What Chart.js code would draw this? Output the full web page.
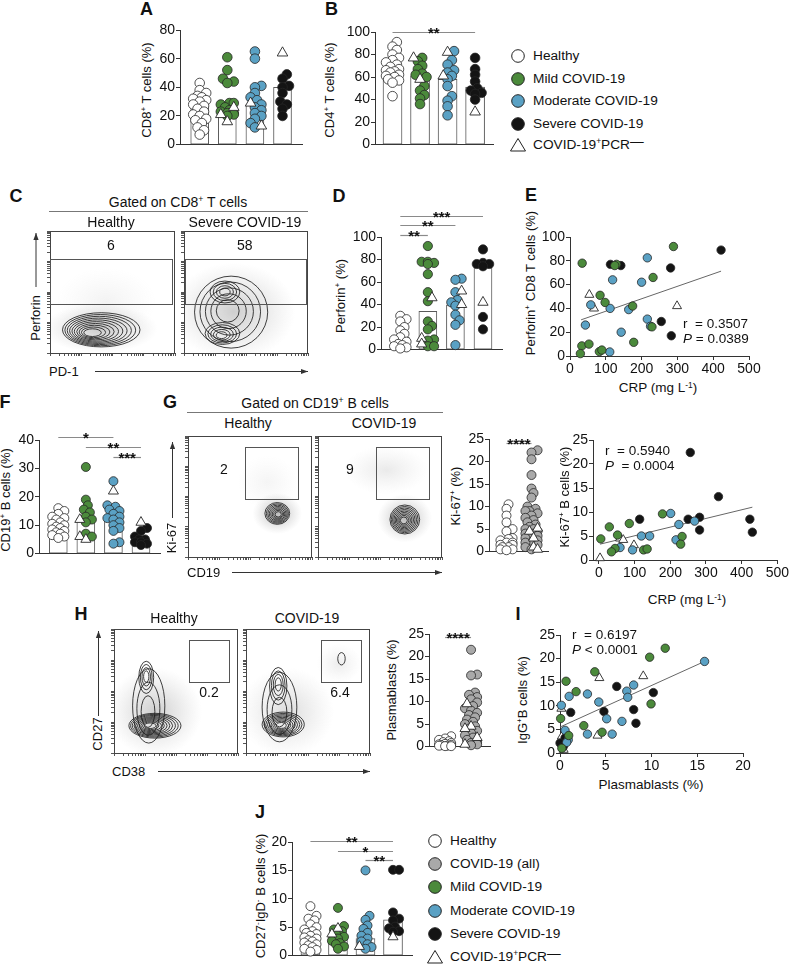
<!DOCTYPE html>
<html><head><meta charset="utf-8">
<script src="https://cdn.jsdelivr.net/npm/chart.js@4.4.1/dist/chart.umd.min.js"></script>
<style>
body{margin:0;background:#fff;}
#root{position:relative;width:791px;height:968px;overflow:hidden;font-family:"Liberation Sans",Arial,Helvetica,sans-serif;color:#111;background:#fff;}
.t{position:absolute;white-space:nowrap;font-size:13.5px;line-height:1.15;color:#111;z-index:5;}
sup{font-size:0.62em;vertical-align:0.55em;line-height:0;}
canvas{position:absolute;}
#deco{position:absolute;left:0;top:0;}
</style></head>
<body><div id="root"><svg id="deco" width="791" height="968" xmlns="http://www.w3.org/2000/svg"></svg></div>
<script>
// ---------------- DATA ----------------
const groups = ["Healthy","Mild COVID-19","Moderate COVID-19","Severe COVID-19"];
// A: CD8+ T cells (%)
const aBars = [26.5, 27, 28, 40];
const aHealthy = [43, 38, 36, 34, 33, 32, 31, 30, 28, 27, 25, 23, 21, 20, 18, 17, 15, 12, 10, 7];
const aMild = [61, 52, 46, 44, 43, 29, 29, 28, 26, 24, 23, 22, 22, 21, 20];
const aModerate = [65, 60, 41, 40, 36, 33, 31, 28, 26, 24, 22, 20, 18, 15, 12];
const aSevere = [49, 46, 41, 40, 36, 30, 28, 25, 20];
const aPcrNeg = [[], [26, 21, 16], [29, 13], [64]];
// B: CD4+ T cells (%)
const bBars = [64, 61, 58, 51];
const bHealthy = [91, 87, 84, 80, 77, 75, 73, 71, 69, 67, 66, 65, 64, 62, 61, 60, 58, 57, 55, 43];
const bMild = [77, 74, 70, 67, 63, 62, 60, 52, 48, 44, 41, 36];
const bModerate = [83, 75, 71, 66, 64, 61, 58, 52, 43, 39, 34, 26];
const bSevere = [77, 67, 62, 56, 50, 48, 46, 45, 40];
const bPcrNeg = [[], [77, 58], [82, 61], [29]];
// D: Perforin+ (%)
const dBars = [11, 34, 39.5, 74];
const dHealthy = [30, 27, 25, 20, 17, 14, 11, 9, 7, 5, 4, 3, 2, 1];
const dMild = [92, 78, 78, 77, 76, 67, 51, 43, 25, 21, 18, 9, 8, 3, 3];
const dModerate = [63, 62, 51, 44, 42, 39, 31, 26, 22, 4];
const dSevere = [89, 77, 76, 76, 74, 29, 18];
const dPcrNeg = [[], [46, 10, 5], [52, 40], [42]];
// E: CRP vs Perforin+ CD8 T cells  [CRP, %]
const eMild = [[34,78],[130,77],[125,76],[289,92],[232,66],[84,51],[98,45],[175,42],[229,24.5],[178,11.5],[33,8.5],[53,10],[29,2],[82,3.7],[89,5]];
const eModerate = [[216,82.5],[119,64],[200,62],[58,43],[112,40],[164,39],[43,26],[143,20],[216,31],[225,25],[111,3.4]];
const eSevere = [[113,77],[142,76],[422,89],[281,74],[255,29],[283,17]];
const ePcrNeg = [[54,51.5],[67,40],[299,42]];
const eFit = [[31,30.4],[422,71.3]];
// F: CD19+ B cells (%)
const fBars = [9.5, 12.5, 12.5, 5];
const fHealthy = [16, 15, 14, 13, 12.5, 12, 11, 10.5, 10, 9.5, 9, 8.5, 8, 7.5, 7, 6.5, 6, 5.5];
const fMild = [30.5, 19, 17, 15.5, 14.5, 13, 12, 11, 7, 6];
const fModerate = [25.5, 17, 16.5, 15.5, 15, 14, 13, 12.5, 12, 11, 10, 9, 8, 4, 3.5];
const fSevere = [9, 8, 6, 5, 5, 4, 4, 3.5, 3];
const fPcrNeg = [[], [12, 6, 5], [22], [11]];
// G: Ki-67+ (%)
const kGroups = ["Healthy","COVID-19"];
const kBars = [2.5, 5.2];
const kHealthy = [10.5, 9.5, 8, 6.5, 5, 4.5, 3, 2.8, 2.5, 2, 2, 1.5, 1.5, 1, 1, 0.5, 0.5, 0.3];
const kCovid = [22.5, 22, 20.5, 17, 14, 13, 12, 10, 9.5, 9, 9, 8.5, 8, 7.5, 7, 6.5, 6, 5.5, 5, 5, 4.5, 4, 4, 3.5, 3, 3, 2.5, 2, 2, 1.5, 1, 0.5];
const kPcrNeg = [[], [5.2, 4.5, 3, 1, 0.5]];
// G: CRP vs Ki-67+ B cells
const gMild = [[29,6.9],[85,7.6],[178,9.6],[5,4.4],[52,5.2],[45,2.4],[35,1.7],[125,2.1],[135,2.3],[233,4.9],[229,3.3]];
const gModerate = [[201,9.7],[224,7.4],[268,8.1],[59,2.6],[94,2.1],[119,5],[142,5],[216,4.2]];
const gSevere = [[256,22.4],[335,13.2],[114,8.5],[250,8.5],[282,8.9],[282,6.25],[423,8.5],[430,5.8]];
const gPcrNeg = [[59,4.5],[68,4.2],[98,3.1],[3,0.4]];
const gFit = [[3,3.3],[430,11]];
// H: Plasmablasts (%)
const pBars = [1.0, 4.3];
const pHealthy = [2.3, 1.8, 1.5, 1.2, 1.0, 0.8, 0.6, 0.5, 0.4, 0.3, 0.2, 0.2, 0.1, 0.1];
const pCovid = [21.5, 16, 15.8, 12, 11.5, 11, 10.5, 9.8, 9, 8.5, 8, 7.5, 7, 6.5, 6, 5.5, 5, 4.5, 4, 3.5, 3, 2.5, 2, 1.5, 1, 0.8, 0.5, 0.3];
const pPcrNeg = [[], [9.5, 4.5, 4, 2, 0.5]];
// I: Plasmablasts vs IgG+ B cells
const iMild = [[11.5,22.2],[9.8,20.3],[3.8,17.2],[0.66,15.2],[1.76,13],[9.95,10.4],[0.07,7.3],[2.6,5.8],[4.6,4.4],[0.95,3.7],[0.2,1.0]];
const iModerate = [[15.8,19.4],[1.0,12],[3.0,12.5],[7.3,13.1],[8.05,14.4],[7.4,11.8],[4.24,10.8],[0.15,10.1],[5.1,7.25],[6.77,6.7],[3.0,4.0],[5.7,4.0],[0.55,4.8],[0.9,2.8],[0.73,2.25]];
const iSevere = [[6.2,14.1],[10.2,12.8],[1.17,8.6],[4.8,8.8],[8.05,9.2],[8.3,6.3],[0.55,3.2],[0,2.1],[0.37,1.4]];
const iPcrNeg = [[4.3,15.9],[9.1,16.3],[0.15,9.4],[4.1,3.7],[0.2,3.5],[0.4,0.7]];
const iFit = [[0,5.5],[15.8,19.4]];
// J: CD27-IgD- B cells (%)
const jBars = [3.7, 3.3, 3.0, 6.3];
const jHealthy = [8.7, 7, 6.5, 6.2, 5.5, 5, 4.6, 4.3, 4, 3.8, 3.5, 3.2, 3, 2.7, 2.5, 2.3, 2, 1.8, 1.5, 1.2, 1, 0.7];
const jMild = [8.4, 5.2, 4.6, 4.3, 3.8, 3.3, 3.0, 2.6, 2.2, 2.0, 1.6, 1.2];
const jModerate = [15, 7, 6.3, 5.3, 4.7, 4.0, 3.5, 3, 2.5, 2.0, 1.5, 1.2];
const jSevere = [15.1, 15.1, 7.6, 6.5, 6.2, 5.1, 4.8, 4.3, 4.2];
const jPcrNeg = [[], [4.8, 3.8], [1.6], [3.3]];
// tick labels
const yTicks80 = [0,20,40,60,80];
const yTicks100 = [0,20,40,60,80,100];
const yTicks40 = [0,10,20,30,40];
const yTicks25 = [0,5,10,15,20,25];
const yTicks20 = [0,5,10,15,20];
const crpTicks = [0,100,200,300,400,500];
const pbTicks = [0,5,10,15,20];
// significance: [group1, group2, level, stars]
const bSig = [[0,3,100,"**"]];
const dSig = [[0,1,102,"**"],[0,2,110.5,"**"],[0,3,119,"***"]];
const fSig = [[0,2,41,"*"],[1,3,37.7,"**"],[2,3,34,"***"]];
const kSig = [[0,1,24.2,"****"]];
const pSig = [[0,1,24.4,"****"]];
const jSig = [[0,3,20.2,"**"],[1,3,18.5,"*"],[2,3,16.8,"**"]];
// flow gates [x0,x1,y0,y1] and gate frequencies
const cGates = [[0,97.6,40.2,77],[0.8,98.4,40.2,77]];
const cFreq = ["6","58"];
const gGates = [[46,88.7,48,91],[46.8,89.5,48,91]];
const gFreq = ["2","9"];
const hGates = [[60.5,92.7,57,91],[60.5,92.7,57,91]];
const hFreq = ["0.2","6.4"];

// ---------------- STYLE ----------------
const GREEN='#4b8a3b', BLUE='#5aa1c4', BLACK='#141414', GRAY='#a9a9a9', WHITE='#ffffff', EDGE='#262626';
const FONT='"Liberation Sans", Arial, Helvetica, sans-serif';
Chart.defaults.font.family=FONT;
Chart.defaults.font.size=14;
Chart.defaults.color='#111';
Chart.defaults.animation=false;
Chart.defaults.plugins.legend.display=false;
Chart.defaults.plugins.tooltip.enabled=false;
const root=document.getElementById('root');
const svg=document.getElementById('deco');

function mk(rect,pad){
  const c=document.createElement('canvas');
  const left=Math.round(rect.l-pad.l), top=Math.round(rect.t-pad.t);
  const W=Math.round(rect.r+pad.r)-left, H=Math.round(rect.b+pad.b)-top;
  c.width=W;c.height=H;
  Object.assign(c.style,{left:left+'px',top:top+'px',width:W+'px',height:H+'px'});
  root.appendChild(c);
  return {c,padL:Math.round(rect.l)-left,padT:Math.round(rect.t)-top,padR:left+W-Math.round(rect.r),padB:top+H-Math.round(rect.b)};
}
function yScale(ticks,w,min,max){
  return {type:'linear',position:'left',min:min,max:max,
    afterBuildTicks:s=>{s.ticks=ticks.map(v=>({value:v}));},
    afterFit:s=>{s.width=w;},
    ticks:{autoSkip:false,padding:1,color:'#111',font:{size:14}},
    grid:{drawOnChartArea:false,drawTicks:true,tickLength:4,color:'#333'},
    border:{display:true,color:'#333',width:1}};
}
function xScale(ticks,h,min,max){
  const s={type:'linear',position:'bottom',min:min,max:max,offset:false,afterFit:sc=>{sc.height=h;},
    border:{display:true,color:'#333',width:1}};
  if(ticks){
    s.afterBuildTicks=sc=>{sc.ticks=ticks.map(v=>({value:v}));};
    s.ticks={autoSkip:false,padding:1,maxRotation:0,color:'#111',font:{size:14}};
    s.grid={drawOnChartArea:false,drawTicks:true,tickLength:4,color:'#333',offset:false};
  } else {
    s.ticks={display:false}; s.grid={display:false,offset:false};
  }
  return s;
}
function swarm(vals,pxU,r,maxOff){
  const idx=vals.map((v,i)=>i).sort((a,b)=>vals[a]-vals[b]);
  const placed=[],off=new Array(vals.length),minD=r*1.15;
  for(const i of idx){
    const y=vals[i]*pxU; let best=0,bs=Infinity;
    for(let k=0;k<=16;k++){
      for(const s of (k===0?[0]:[1,-1])){
        const x=s*k*r*0.45; if(Math.abs(x)>maxOff) continue;
        let ov=0; for(const p of placed){const d=Math.hypot(p.x-x,p.y-y); if(d<minD) ov+=minD-d;}
        const sc=ov*10+Math.abs(x)*0.05;
        if(sc<bs){bs=sc;best=x;}
      }
    }
    off[i]=best; placed.push({x:best,y});
  }
  return off;
}
const sigPlugin={id:'sig',afterDraw(chart,args,opts){
  if(!opts||!opts.items) return;
  const {ctx,scales:{x,y}}=chart; ctx.save();
  for(const [c1,c2,v,s] of opts.items){
    const py=Math.round(y.getPixelForValue(v))+0.5, x1=x.getPixelForValue(c1), x2=x.getPixelForValue(c2);
    ctx.strokeStyle='#8a8a8a'; ctx.lineWidth=1.2; ctx.beginPath(); ctx.moveTo(x1,py); ctx.lineTo(x2,py); ctx.stroke();
    ctx.fillStyle='#111'; ctx.font='bold 15px '+FONT; ctx.textAlign='center'; ctx.textBaseline='alphabetic';
    ctx.fillText(s,(x1+x2)/2,py+5);
  }
  ctx.restore();
}};
function barPanel(o){
  const k=mk(o.rect,o.pad);
  const pxU=(o.rect.b-o.rect.t)/o.ymax, pxC=(o.rect.r-o.rect.l)/(o.xmax-o.xmin);
  const ds=[{type:'bar',data:o.bars.map((v,i)=>({x:i,y:v})),backgroundColor:'#fff',borderColor:'#5a5a5a',borderWidth:1,borderSkipped:false,barThickness:o.barW,order:10}];
  o.groups.forEach((g,ci)=>{
    const tri=o.tris[ci]||[]; const all=g.vals.concat(tri);
    const off=swarm(all,pxU,o.pr,o.maxOff||8);
    const pts=all.map((v,j)=>({x:ci+off[j]/pxC,y:v}));
    ds.push({type:'scatter',data:pts.slice(0,g.vals.length),backgroundColor:g.color,borderColor:EDGE,borderWidth:0.8,pointRadius:o.pr,order:2,clip:false});
    if(tri.length) ds.push({type:'scatter',data:pts.slice(g.vals.length),pointStyle:'triangle',backgroundColor:'#fff',borderColor:EDGE,borderWidth:0.9,pointRadius:o.pr+1.3,order:1,clip:false});
  });
  new Chart(k.c,{type:'bar',data:{datasets:ds},plugins:[sigPlugin],options:{responsive:false,devicePixelRatio:1,
    layout:{autoPadding:false,padding:{left:0,top:k.padT,right:k.padR,bottom:0}},
    scales:{x:xScale(null,k.padB,o.xmin,o.xmax),y:yScale(o.yTicks,k.padL,0,o.ymax)},
    plugins:{sig:{items:o.sig||[]}}}});
}
function scatterPanel(o){
  const k=mk(o.rect,o.pad);
  const ds=[];
  o.series.forEach(s=>{
    ds.push({type:'scatter',data:s.pts.map(p=>({x:p[0],y:p[1]})),pointStyle:s.tri?'triangle':'circle',
      backgroundColor:s.color,borderColor:EDGE,borderWidth:s.tri?0.9:0.8,pointRadius:s.tri?5.2:4.2,order:1,clip:false});
  });
  ds.push({type:'scatter',showLine:true,data:o.fit.map(p=>({x:p[0],y:p[1]})),borderColor:'#666',borderWidth:1,pointRadius:0,order:5,clip:false});
  new Chart(k.c,{type:'scatter',data:{datasets:ds},options:{responsive:false,devicePixelRatio:1,
    layout:{autoPadding:false,padding:{left:0,top:k.padT,right:k.padR,bottom:0}},
    scales:{x:xScale(o.xTicks,k.padB,o.xmin,o.xmax),y:yScale(o.yTicks,k.padL,0,o.ymax)}}});
}
// flow cytometry panels
const flowTickVals=[]; for(let d=0;d<4;d++){for(let m=1;m<10;m++){flowTickVals.push((d+Math.log10(m))*25);}} flowTickVals.push(100);
const flowPlugin={id:'flow',
  beforeDatasetsDraw(chart,args,o){
    const {ctx,chartArea:a,scales:{x,y}}=chart; ctx.save();
    ctx.beginPath(); ctx.rect(a.left,a.top,a.right-a.left,a.bottom-a.top); ctx.clip();
    for(const [cx,cy,rx,ry,al] of o.clouds){
      const px=x.getPixelForValue(cx),py=y.getPixelForValue(cy);
      const prx=Math.abs(x.getPixelForValue(cx+rx)-px),pry=Math.abs(y.getPixelForValue(cy+ry)-py);
      ctx.save(); ctx.translate(px,py); ctx.scale(prx,pry);
      const g=ctx.createRadialGradient(0,0,0,0,0,1);
      g.addColorStop(0,'rgba(80,80,80,'+al+')'); g.addColorStop(0.5,'rgba(100,100,100,'+(al*0.5)+')'); g.addColorStop(1,'rgba(130,130,130,0)');
      ctx.fillStyle=g; ctx.beginPath(); ctx.arc(0,0,1,0,Math.PI*2); ctx.fill(); ctx.restore();
    }
    ctx.strokeStyle='#1e1e1e'; ctx.lineWidth=0.85;
    for(const [cx,cy,rx,ry,n,ix,iy] of o.contours){
      for(let i=0;i<n;i++){
        const s=1-i*(0.86/Math.max(n,1));
        const mx=ix+(cx-ix)*s, my=iy+(cy-iy)*s;
        const px=x.getPixelForValue(mx),py=y.getPixelForValue(my);
        const prx=Math.abs(x.getPixelForValue(mx+rx*s)-px),pry=Math.abs(y.getPixelForValue(my+ry*s)-py);
        ctx.beginPath(); ctx.ellipse(px,py,prx,pry,0,0,Math.PI*2); ctx.stroke();
      }
    }
    ctx.restore();
  },
  afterDraw(chart,args,o){
    const {ctx,chartArea:a,scales:{x,y}}=chart; ctx.save();
    ctx.strokeStyle='#444'; ctx.lineWidth=1;
    ctx.strokeRect(Math.round(a.left)+0.5,Math.round(a.top)+0.5,Math.round(a.right-a.left)-1,Math.round(a.bottom-a.top));
    const g=o.gate; const gx0=x.getPixelForValue(g[0]),gx1=x.getPixelForValue(g[1]),gy0=y.getPixelForValue(g[2]),gy1=y.getPixelForValue(g[3]);
    ctx.strokeStyle='#555'; ctx.strokeRect(Math.round(gx0)+0.5,Math.round(gy1)+0.5,Math.round(gx1-gx0),Math.round(gy0-gy1));
    ctx.fillStyle='#111'; ctx.font='14px '+FONT; ctx.textAlign='center'; ctx.textBaseline='middle';
    ctx.fillText(o.label[0],x.getPixelForValue(o.label[1]),y.getPixelForValue(o.label[2]));
    ctx.restore();
  }};
function flowPanel(rect,o){
  const k=mk(rect,{l:4,t:2,r:2,b:4});
  const ax=(pos,sz)=>({type:'linear',position:pos,min:0,max:100,
    afterBuildTicks:s=>{s.ticks=flowTickVals.map(v=>({value:v}));},
    afterFit:s=>{if(pos==='left')s.width=sz;else s.height=sz;},
    ticks:{display:false},grid:{drawOnChartArea:false,drawTicks:true,tickLength:3,color:'#555'},border:{display:true,color:'#444'}});
  new Chart(k.c,{type:'scatter',data:{datasets:[]},plugins:[flowPlugin],options:{responsive:false,devicePixelRatio:1,
    layout:{autoPadding:false,padding:{left:0,top:k.padT,right:k.padR,bottom:0}},
    scales:{x:ax('bottom',k.padB),y:ax('left',k.padL)},plugins:{flow:o}}});
}

// ---------------- BUILD CHARTS ----------------
barPanel({rect:{l:180,r:302,t:30.3,b:150.7},pad:{l:24,t:12,r:6,b:3},xmin:-0.714,xmax:3.706,ymax:80,yTicks:yTicks80,bars:aBars,barW:18,pr:4.8,
  groups:[{vals:aHealthy,color:WHITE},{vals:aMild,color:GREEN},{vals:aModerate,color:BLUE},{vals:aSevere,color:BLACK}],tris:aPcrNeg});
barPanel({rect:{l:375,r:493,t:31.7,b:150.7},pad:{l:31,t:14,r:6,b:3},xmin:-0.636,xmax:3.65,ymax:100,yTicks:yTicks100,bars:bBars,barW:19,pr:4.8,
  groups:[{vals:bHealthy,color:WHITE},{vals:bMild,color:GREEN},{vals:bModerate,color:BLUE},{vals:bSevere,color:BLACK}],tris:bPcrNeg,sig:bSig});
barPanel({rect:{l:380.7,r:502,t:236.7,b:356},pad:{l:31,t:34,r:6,b:3},xmin:-0.70,xmax:3.69,ymax:100,yTicks:yTicks100,bars:dBars,barW:18,pr:4.6,
  groups:[{vals:dHealthy,color:WHITE},{vals:dMild,color:GREEN},{vals:dModerate,color:BLUE},{vals:dSevere,color:BLACK}],tris:dPcrNeg,sig:dSig});
barPanel({rect:{l:38.5,r:160,t:440,b:560},pad:{l:23,t:22,r:6,b:3},xmin:-0.70,xmax:3.69,ymax:40,yTicks:yTicks40,bars:fBars,barW:18,pr:4.5,
  groups:[{vals:fHealthy,color:WHITE},{vals:fMild,color:GREEN},{vals:fModerate,color:BLUE},{vals:fSevere,color:BLACK}],tris:fPcrNeg,sig:fSig});
barPanel({rect:{l:489,r:548,t:439,b:558},pad:{l:22,t:12,r:6,b:3},xmin:-0.7,xmax:1.66,ymax:25,yTicks:yTicks25,bars:kBars,barW:17,pr:4.5,maxOff:7,
  groups:[{vals:kHealthy,color:WHITE},{vals:kCovid,color:GRAY}],tris:kPcrNeg,sig:kSig});
barPanel({rect:{l:429,r:490,t:634,b:753},pad:{l:24,t:12,r:6,b:3},xmin:-0.62,xmax:1.73,ymax:25,yTicks:yTicks25,bars:pBars,barW:16,pr:4.5,maxOff:7,
  groups:[{vals:pHealthy,color:WHITE},{vals:pCovid,color:GRAY}],tris:pPcrNeg,sig:pSig});
barPanel({rect:{l:292,r:412,t:842,b:962},pad:{l:22,t:12,r:6,b:3},xmin:-0.67,xmax:3.69,ymax:20,yTicks:yTicks20,bars:jBars,barW:19,pr:4.5,
  groups:[{vals:jHealthy,color:WHITE},{vals:jMild,color:GREEN},{vals:jModerate,color:BLUE},{vals:jSevere,color:BLACK}],tris:jPcrNeg,sig:jSig});

scatterPanel({rect:{l:570,r:748.5,t:236.7,b:355.5},pad:{l:30,t:10,r:14,b:22},xmin:0,xmax:500,ymax:100,xTicks:crpTicks,yTicks:yTicks100,
  series:[{pts:eMild,color:GREEN},{pts:eModerate,color:BLUE},{pts:eSevere,color:BLACK},{pts:ePcrNeg,color:WHITE,tri:true}],fit:eFit});
scatterPanel({rect:{l:593,r:778,t:440,b:560},pad:{l:21,t:10,r:12,b:22},xmin:-16.8,xmax:500,ymax:25,xTicks:crpTicks,yTicks:yTicks25,
  series:[{pts:gMild,color:GREEN},{pts:gModerate,color:BLUE},{pts:gSevere,color:BLACK},{pts:gPcrNeg,color:WHITE,tri:true}],fit:gFit});
scatterPanel({rect:{l:560,r:742.5,t:635,b:753},pad:{l:24,t:10,r:12,b:22},xmin:0,xmax:20,ymax:25,xTicks:pbTicks,yTicks:yTicks25,
  series:[{pts:iMild,color:GREEN},{pts:iModerate,color:BLUE},{pts:iSevere,color:BLACK},{pts:iPcrNeg,color:WHITE,tri:true}],fit:iFit});

flowPanel({l:50,r:175,t:231,b:353},{gate:cGates[0],label:[cFreq[0],48.8,87.7],
  clouds:[[40,20,46,20,0.3],[45,42,40,28,0.07]],contours:[[41,19,31,14,10,32,16]]});
flowPanel({l:184,r:308,t:231,b:353},{gate:cGates[1],label:[cFreq[1],49,87.7],
  clouds:[[40,34,50,40,0.28]],contours:[[38,33.5,29.5,29.5,5,34,35],[33,50,12,9,4,33,50],[31,16,14,9,5,30,14]]});
flowPanel({l:188,r:312,t:436,b:557},{gate:gGates[0],label:[gFreq[0],29,72],
  clouds:[[72,36,20,17,0.38],[64,62,24,22,0.06]],contours:[[72,36,10,9,8,73,35]]});
flowPanel({l:318,r:442,t:436,b:557},{gate:gGates[1],label:[gFreq[1],25.8,72],
  clouds:[[70,32,22,20,0.38],[55,72,34,20,0.12]],contours:[[70,31,12,12,9,69,30]]});
flowPanel({l:114,r:238,t:629,b:753},{gate:hGates[0],label:[hFreq[0],76.6,48.4],
  clouds:[[33,33,38,36,0.28]],contours:[[28,38,13,30,3,27,30],[33,22,21,10,10,28,22],[26,61,6,13,4,26,62]]});
flowPanel({l:246,r:370,t:629,b:753},{gate:hGates[1],label:[hFreq[1],75.8,48.4],
  clouds:[[33,33,38,36,0.2],[75,72,18,16,0.1]],contours:[[27,37,14,28,3,27,30],[30,23,17,10,9,28,22],[26,54,7,15,4,26,56],[77,76,3,5,1,77,76]]});

// ---------------- TEXT & DECORATION ----------------
function txt(html,x,y,o={}){
  const d=document.createElement('div'); d.className='t'; d.innerHTML=html;
  d.style.left=x+'px'; d.style.top=y+'px'; d.style.fontSize=(o.size||13.5)+'px';
  if(o.bold) d.style.fontWeight='bold';
  const ax=o.align==='left'?'0':o.align==='right'?'-100%':'-50%';
  d.style.transform='translate('+ax+',-50%)'+(o.rot?' rotate(-90deg)':'');
  root.appendChild(d);
}
const NS='http://www.w3.org/2000/svg';
function el(tag,attrs){const e=document.createElementNS(NS,tag);for(const k in attrs)e.setAttribute(k,attrs[k]);svg.appendChild(e);return e;}
function line(x1,y1,x2,y2,c,w){el('line',{x1,y1,x2,y2,stroke:c||'#333','stroke-width':w||1});}
function arrow(x1,y1,x2,y2){
  line(x1,y1,x2,y2,'#333',1);
  const a=Math.atan2(y2-y1,x2-x1),L=7,W=2.6;
  const p=[[x2,y2],[x2-L*Math.cos(a)+W*Math.sin(a),y2-L*Math.sin(a)-W*Math.cos(a)],[x2-L*Math.cos(a)-W*Math.sin(a),y2-L*Math.sin(a)+W*Math.cos(a)]];
  el('polygon',{points:p.map(q=>q.join(',')).join(' '),fill:'#333'});
}
function marker(x,y,color){
  if(color==='tri') el('polygon',{points:(x)+','+(y-6.5)+' '+(x-7.5)+','+(y+6)+' '+(x+7.5)+','+(y+6),fill:'#fff',stroke:'#222','stroke-width':1});
  else el('circle',{cx:x,cy:y,r:6.3,fill:color,stroke:'#222','stroke-width':1});
}
// panel letters
[["A",146.5,9],["B",331.5,9],["C",16,196],["D",339,196],["E",531,195],["F",5,402],["G",170,402],["H",81,614],["I",518,614],["J",260,812]]
  .forEach(([s,x,y])=>txt(s,x,y,{size:18,bold:true}));
// axis titles
txt('CD8<sup>+</sup> T cells (%)',147,90,{rot:true,size:13});
txt('CD4<sup>+</sup> T cells (%)',330,90,{rot:true,size:13});
txt('Perforin<sup>+</sup> (%)',341,296,{rot:true,size:13});
txt('Perforin<sup>+</sup> CD8 T cells (%)',531,283,{rot:true,size:13});
txt('CRP (mg L<sup>-1</sup>)',658,388,{size:13.5});
txt('CD19<sup>+</sup> B cells (%)',6,500,{rot:true,size:13});
txt('Ki-67<sup>+</sup> (%)',456,496,{rot:true,size:13});
txt('Ki-67<sup>+</sup> B cells (%)',565,497,{rot:true,size:13});
txt('CRP (mg L<sup>-1</sup>)',687,600,{size:13.5});
txt('Plasmablasts (%)',392,690,{rot:true,size:13});
txt('IgG<sup>+</sup>B cells (%)',523,700,{rot:true,size:13});
txt('Plasmablasts (%)',651,785,{size:13.5});
txt('CD27<sup>-</sup>IgD<sup>-</sup> B cells (%)',261,896,{rot:true,size:13});
// stats
txt('r&nbsp; = 0.3507',683,324,{align:'left',size:13.5});
txt('<i>P</i> = 0.0389',683,339,{align:'left',size:13.5});
txt('r&nbsp; = 0.5940',605,451,{align:'left',size:13.5});
txt('<i>P</i>&nbsp; = 0.0004',605,466,{align:'left',size:13.5});
txt('r&nbsp; = 0.6197',572,635,{align:'left',size:13.5});
txt('<i>P</i> &lt; 0.0001',572,650,{align:'left',size:13.5});
// flow headers & axes
txt('Gated on CD8<sup>+</sup> T cells',178,202,{size:14});
line(49,211.5,308,211.5,'#777',1.2);
txt('Healthy',111,222,{size:14}); txt('Severe COVID-19',245,222,{size:14});
txt('Perforin',36,318,{rot:true,size:13}); arrow(36,287,36,233);
txt('PD-1',49,372,{align:'left',size:13}); arrow(95,371.5,308,371.5);
txt('Gated on CD19<sup>+</sup> B cells',315,403,{size:14});
line(187,412.5,443,412.5,'#777',1.2);
txt('Healthy',248,423,{size:14}); txt('COVID-19',384,423,{size:14});
txt('Ki-67',172,538,{rot:true,size:13}); arrow(172.5,518,172.5,442);
txt('CD19',187,573,{align:'left',size:13}); arrow(232,572.5,442,572.5);
txt('Healthy',174,618,{size:14}); txt('COVID-19',307,618,{size:14});
txt('CD27',98,734,{rot:true,size:13}); arrow(98.5,716,98.5,631);
txt('CD38',112,772,{align:'left',size:13}); arrow(158,771.5,370,771.5);
// legends
const legendTop=[["Healthy",WHITE],["Mild COVID-19",GREEN],["Moderate COVID-19",BLUE],["Severe COVID-19",BLACK],["COVID-19<sup>+</sup>PCR<span style=\"position:relative;top:-3px\">—</span>","tri"]];
const legendTopY=[56,79,101,124,145];
legendTop.forEach(([s,c],i)=>{marker(518,legendTopY[i],c);txt(s,533,legendTopY[i],{align:'left',size:13.7});});
const legendJ=[["Healthy",WHITE],["COVID-19 (all)",GRAY],["Mild COVID-19",GREEN],["Moderate COVID-19",BLUE],["Severe COVID-19",BLACK],["COVID-19<sup>+</sup>PCR<span style=\"position:relative;top:-3px\">—</span>","tri"]];
const legendJY=[841,864,887,911,934,957];
legendJ.forEach(([s,c],i)=>{marker(435,legendJY[i],c);txt(s,450,legendJY[i],{align:'left',size:13.7});});
</script></body></html>
